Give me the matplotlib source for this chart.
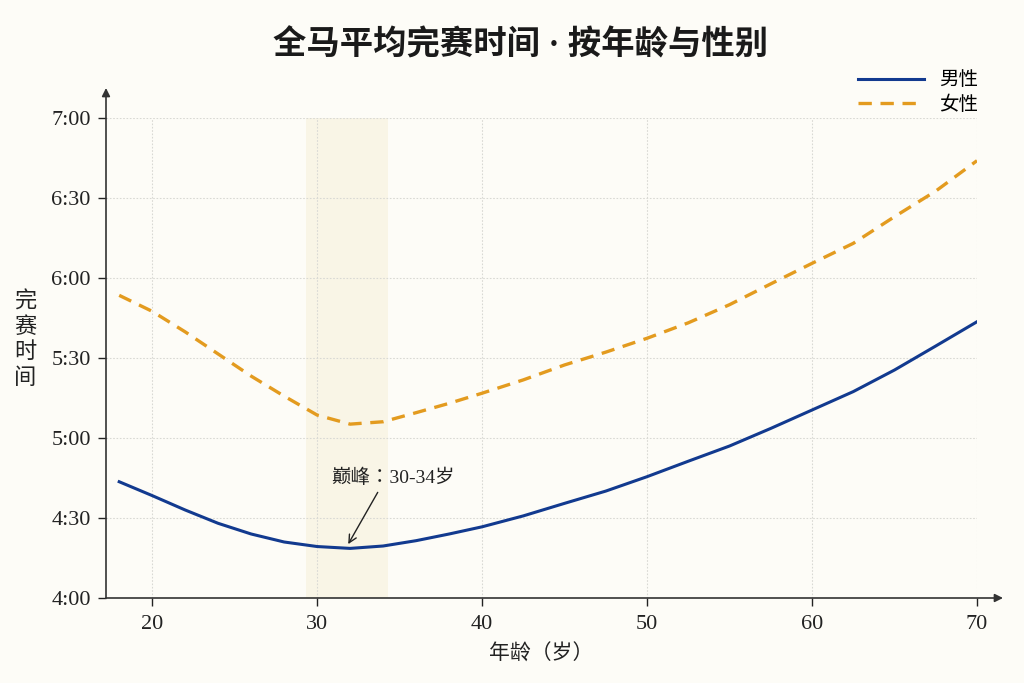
import numpy as np
import matplotlib
matplotlib.use('Agg')
import matplotlib.pyplot as plt
from matplotlib.ticker import FuncFormatter

plt.rcParams['font.family'] = ['Liberation Serif', 'Noto Sans CJK SC', 'DejaVu Sans']

# data (finish time in minutes)
ages = [18, 20, 22, 24, 26, 28, 30, 32, 34, 36, 38, 40, 42.5, 45, 47.5, 50,
        52.5, 55, 57.5, 60, 62.5, 65, 67.5, 70]
male = [283.6, 278.4, 273.0, 268.0, 264.0, 261.0, 259.3, 258.6, 259.5, 261.5,
        264.0, 266.7, 270.8, 275.5, 280.1, 285.5, 291.3, 297.0, 303.6, 310.5,
        317.4, 325.5, 334.5, 343.6]
female = [353.5, 347.5, 339.8, 331.5, 323.2, 315.7, 308.6, 305.2, 306.1, 309.5,
          313.0, 316.8, 321.8, 327.4, 332.2, 337.4, 343.2, 350.0, 357.8, 365.5,
          373.0, 383.0, 392.6, 404.0]
series_labels = ['男性', '女性']
peak_band = (29.3, 34.3)
peak_text = '巅峰：30-34岁'

bg = '#fdfcf7'
male_color = '#123a8f'
female_color = '#e39b1f'
ink = '#222222'

fig = plt.figure(figsize=(10.24, 6.83), dpi=100, facecolor=bg)
ax = fig.add_axes([106 / 1024, 1 - 598 / 683, (977 - 106) / 1024, (598 - 118) / 683])
ax.set_facecolor(bg)

ax.axvspan(*peak_band, color='#f9f5e6', lw=0, zorder=0)

ax.plot(ages, male, color=male_color, lw=2.2, label=series_labels[0], zorder=3)
ax.plot(ages, female, color=female_color, lw=2.4, ls=(0, (4, 2.6)),
        label=series_labels[1], zorder=3)

ax.set_xlim(17.2, 70)
ax.set_ylim(240, 420)
ax.set_xticks([20, 30, 40, 50, 60, 70])
ax.set_yticks(np.arange(240, 421, 30))
ax.yaxis.set_major_formatter(FuncFormatter(lambda v, p: f'{int(v) // 60}:{int(v) % 60:02d}'))
ax.tick_params(axis='both', labelsize=16, colors=ink, length=6, width=1, direction='out')
ax.tick_params(axis='x', pad=6)
ax.tick_params(axis='y', pad=5)

ax.grid(True, color='#d9d9d4', lw=0.8, ls=(0, (1.5, 1.5)), zorder=1)
for s in ax.spines:
    ax.spines[s].set_visible(False)

# axes drawn as arrows running past the data limits
arrow = dict(arrowstyle='-|>', color='#333333', lw=1.2, mutation_scale=12,
             shrinkA=0, shrinkB=0)
ax.annotate('', xy=((1003 - 106) / (977 - 106), 0), xytext=(0, 0),
            xycoords='axes fraction', arrowprops=arrow, annotation_clip=False)
ax.annotate('', xy=(0, (598 - 88) / (598 - 118)), xytext=(0, 0),
            xycoords='axes fraction', arrowprops=arrow, annotation_clip=False)

ax.annotate(peak_text, xy=(31.8, 259.3), xytext=(34.6, 285), fontsize=14,
            ha='center', va='center', color=ink,
            family=['Liberation Serif', 'Noto Sans CJK TC'],
            arrowprops=dict(arrowstyle='->', color=ink, lw=1, relpos=(0.4, 0)))

ax.set_xlabel('年龄（岁）', fontsize=15, labelpad=8, color=ink)
fig.text(25 / 1024, 1 - 340 / 683, '完\n赛\n时\n间', fontsize=16, ha='center',
         va='center', linespacing=1.3, color=ink)

fig.text(0.508, 1 - 45 / 683, '全马平均完赛时间 · 按年龄与性别', fontsize=24,
         fontweight='bold', ha='center', va='center', color='#1a1a1a')

ax.legend(loc='upper right', bbox_to_anchor=(996 / 1024, 1 - 54 / 683),
          bbox_transform=fig.transFigure, frameon=False, fontsize=14,
          handlelength=3.4, labelspacing=0.3)

fig.savefig('out.png', dpi=100, facecolor=bg)
